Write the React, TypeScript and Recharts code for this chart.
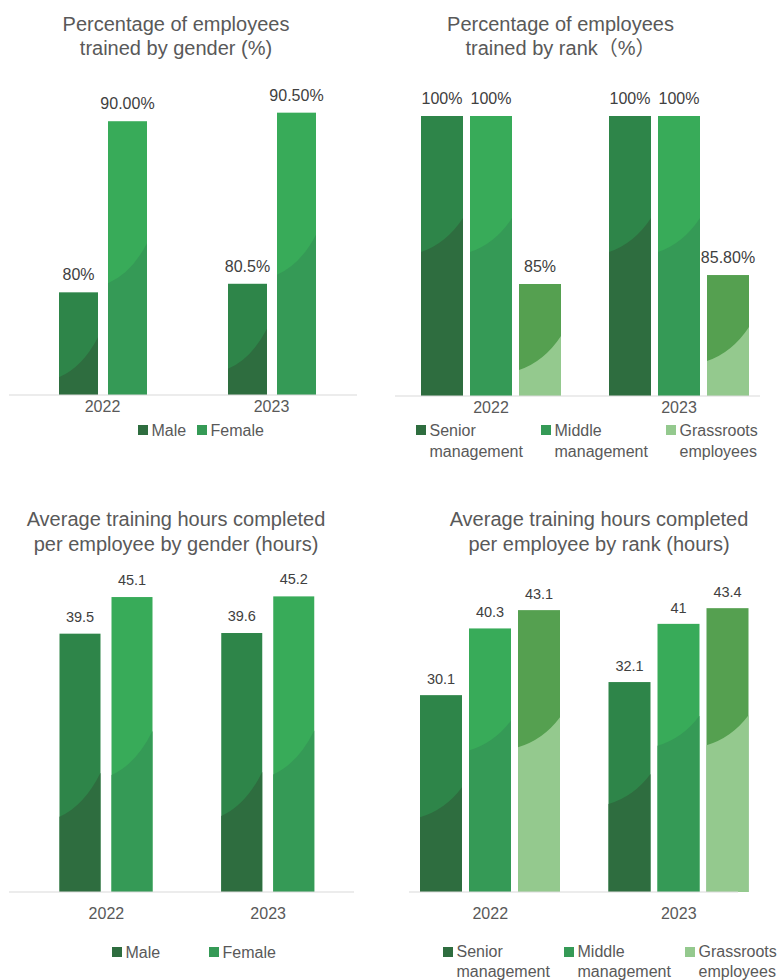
import React from 'react';
import { BarChart, Bar, XAxis, YAxis, LabelList, Legend } from 'recharts';

const years = ['2022', '2023'];

// percentage trained by gender (%)
const pctMale = [80, 80.5];
const pctFemale = [90, 90.5];
const pctMaleLabels = ['80%', '80.5%'];
const pctFemaleLabels = ['90.00%', '90.50%'];

// percentage trained by rank (%)
const pctSenior = [100, 100];
const pctMiddle = [100, 100];
const pctGrass = [85, 85.8];
const pctSeniorLabels = ['100%', '100%'];
const pctMiddleLabels = ['100%', '100%'];
const pctGrassLabels = ['85%', '85.80%'];

// average training hours
const hrsMale = [39.5, 39.6];
const hrsFemale = [45.1, 45.2];
const hrsSenior = [30.1, 32.1];
const hrsMiddle = [40.3, 41];
const hrsGrass = [43.1, 43.4];

const FONT = '"Liberation Sans", Arial, "Noto Sans CJK SC", sans-serif';

const DARK = { top: '#2e8549', bottom: '#2e6d3f' };
const MID = { top: '#38ab59', bottom: '#359a56' };
const LIGHT = { top: '#55a050', bottom: '#94c98e' };

const genderPct = years.map((year, i) => ({
  year,
  male: pctMale[i],
  maleLabel: pctMaleLabels[i],
  female: pctFemale[i],
  femaleLabel: pctFemaleLabels[i],
}));

const rankPct = years.map((year, i) => ({
  year,
  senior: pctSenior[i],
  seniorLabel: pctSeniorLabels[i],
  middle: pctMiddle[i],
  middleLabel: pctMiddleLabels[i],
  grass: pctGrass[i],
  grassLabel: pctGrassLabels[i],
}));

const genderHrs = years.map((year, i) => ({
  year,
  male: hrsMale[i],
  maleLabel: String(hrsMale[i]),
  female: hrsFemale[i],
  femaleLabel: String(hrsFemale[i]),
}));

const rankHrs = years.map((year, i) => ({
  year,
  senior: hrsSenior[i],
  seniorLabel: String(hrsSenior[i]),
  middle: hrsMiddle[i],
  middleLabel: String(hrsMiddle[i]),
  grass: hrsGrass[i],
  grassLabel: String(hrsGrass[i]),
}));

interface Series {
  key: string;
  name: string;
  top: string;
  bottom: string;
  split: number;
}

// bar filled with the light tone, with a curved darker region at the bottom
function twoTone(top: string, bottom: string, split: number, rise: number) {
  return (props: any) => {
    const { x, y, width: w, height: h } = props;
    if (!h || h <= 0) return <g />;
    const base = y + h;
    const yl = Math.min(base, y + split);
    const yr = yl - rise;
    const d = `M${x},${base} L${x},${yl} Q${x + w * 0.6},${yl - rise * 0.25} ${x + w},${yr} L${x + w},${base} Z`;
    return (
      <g>
        <rect x={x} y={y} width={w} height={h} fill={top} />
        <path d={d} fill={bottom} />
      </g>
    );
  };
}

// legend keeps the series order (recharts would sort it by name)
function makeLegend(series: Series[], colW: number, lineH: number) {
  return () => (
    <div style={{ display: 'flex', fontFamily: FONT, fontSize: 16, color: '#595959' }}>
      {series.map((s) => (
        <div key={s.key} style={{ display: 'flex', alignItems: 'flex-start', width: colW, flexShrink: 0 }}>
          <div
            style={{
              width: 10,
              height: 10,
              background: s.bottom,
              marginTop: (lineH - 10) / 2,
              marginRight: 3.5,
              flexShrink: 0,
            }}
          />
          <div style={{ width: 100, flexShrink: 0, lineHeight: `${lineH}px`, whiteSpace: 'normal' }}>{s.name}</div>
        </div>
      ))}
    </div>
  );
}

interface PanelProps {
  left: number;
  top: number;
  width: number;
  height: number;
  title: string[];
  titleX: number;
  titleY: number;
  titleLH: number;
  data: any[];
  series: Series[];
  domain: [number, number];
  margin: { top: number; right: number; bottom: number; left: number };
  padding: { left: number; right: number };
  barSize: number;
  barGap: number;
  labelSize: number;
  labelOffset: number;
  tickMargin: number;
  rise: number;
  legendLeft: number;
  legendTop: number;
  colW: number;
  lineH: number;
}

function Panel(p: PanelProps) {
  return (
    <div style={{ position: 'absolute', left: p.left, top: p.top, width: p.width, height: p.height }}>
      <div
        style={{
          position: 'absolute',
          left: p.titleX - 200,
          top: p.titleY - p.titleLH / 2,
          width: 400,
          textAlign: 'center',
          fontFamily: FONT,
          fontSize: 20,
          lineHeight: `${p.titleLH}px`,
          color: '#595959',
          zIndex: 2,
        }}
      >
        {p.title.map((t) => (
          <div key={t}>{t}</div>
        ))}
      </div>
      <BarChart width={p.width} height={p.height} data={p.data} margin={p.margin} barGap={p.barGap}>
        <XAxis
          dataKey="year"
          height={30}
          interval={0}
          tickLine={false}
          tickSize={0}
          tickMargin={p.tickMargin}
          padding={p.padding}
          axisLine={{ stroke: '#d9d9d9', strokeWidth: 1 }}
          tick={{ fill: '#595959', fontSize: 16, fontFamily: FONT }}
        />
        <YAxis hide domain={p.domain} allowDataOverflow />
        <Legend
          layout="horizontal"
          verticalAlign="middle"
          align="center"
          wrapperStyle={{ left: p.legendLeft, top: p.legendTop, width: 'auto' }}
          content={makeLegend(p.series, p.colW, p.lineH)}
        />
        {p.series.map((s) => (
          <Bar
            key={s.key}
            dataKey={s.key}
            name={s.name}
            fill={s.bottom}
            barSize={p.barSize}
            isAnimationActive={false}
            shape={twoTone(s.top, s.bottom, s.split, p.rise)}
          >
            <LabelList
              dataKey={`${s.key}Label`}
              position="top"
              offset={p.labelOffset}
              fill="#404040"
              fontSize={p.labelSize}
              fontFamily={FONT}
            />
          </Bar>
        ))}
      </BarChart>
    </div>
  );
}

export default function App() {
  return (
    <div style={{ position: 'absolute', left: 0, top: 0, width: 779, height: 980, background: '#fff', overflow: 'hidden' }}>
      <Panel
        left={0}
        top={0}
        width={389}
        height={480}
        title={['Percentage of employees', 'trained by gender (%)']}
        titleX={176}
        titleY={24}
        titleLH={24}
        data={genderPct}
        series={[
          { key: 'male', name: 'Male', ...DARK, split: 85 },
          { key: 'female', name: 'Female', ...MID, split: 162 },
        ]}
        domain={[74, 92]}
        margin={{ top: 87, right: 32, bottom: 55, left: 9 }}
        padding={{ left: 9, right: 1 }}
        barSize={39}
        barGap={10}
        labelSize={16}
        labelOffset={12}
        tickMargin={6}
        rise={40}
        legendLeft={138}
        legendTop={419.5}
        colW={59}
        lineH={21}
      />
      <Panel
        left={390}
        top={0}
        width={389}
        height={480}
        title={['Percentage of employees', 'trained by rank（%）']}
        titleX={170.5}
        titleY={24}
        titleLH={24}
        data={rankPct}
        series={[
          { key: 'senior', name: 'Senior management', ...DARK, split: 136 },
          { key: 'middle', name: 'Middle management', ...MID, split: 136 },
          { key: 'grass', name: 'Grassroots employees', ...LIGHT, split: 86 },
        ]}
        domain={[75, 105]}
        margin={{ top: 60, right: 19, bottom: 54, left: 5 }}
        padding={{ left: 2, right: -13 }}
        barSize={42}
        barGap={7}
        labelSize={16}
        labelOffset={12}
        tickMargin={6}
        rise={34}
        legendLeft={26}
        legendTop={419.5}
        colW={125}
        lineH={21}
      />
      <Panel
        left={0}
        top={490}
        width={389}
        height={490}
        title={['Average training hours completed', 'per employee by gender (hours)']}
        titleX={176}
        titleY={29}
        titleLH={25}
        data={genderHrs}
        series={[
          { key: 'male', name: 'Male', ...DARK, split: 183 },
          { key: 'female', name: 'Female', ...MID, split: 178 },
        ]}
        domain={[0, 50]}
        margin={{ top: 75, right: 35, bottom: 58, left: 9 }}
        padding={{ left: 16.5, right: 5 }}
        barSize={41}
        barGap={11}
        labelSize={14.5}
        labelOffset={12}
        tickMargin={16}
        rise={44}
        legendLeft={112}
        legendTop={451.5}
        colW={97}
        lineH={21}
      />
      <Panel
        left={390}
        top={490}
        width={389}
        height={490}
        title={['Average training hours completed', 'per employee by rank (hours)']}
        titleX={209}
        titleY={29}
        titleLH={25}
        data={rankHrs}
        series={[
          { key: 'senior', name: 'Senior management', ...DARK, split: 122 },
          { key: 'middle', name: 'Middle management', ...MID, split: 122 },
          { key: 'grass', name: 'Grassroots employees', ...LIGHT, split: 137 },
        ]}
        domain={[0, 50]}
        margin={{ top: 75, right: 41, bottom: 58, left: 19 }}
        padding={{ left: -13, right: -35 }}
        barSize={42}
        barGap={7}
        labelSize={14.5}
        labelOffset={11}
        tickMargin={16}
        rise={30}
        legendLeft={53}
        legendTop={452}
        colW={121}
        lineH={20}
      />
    </div>
  );
}
